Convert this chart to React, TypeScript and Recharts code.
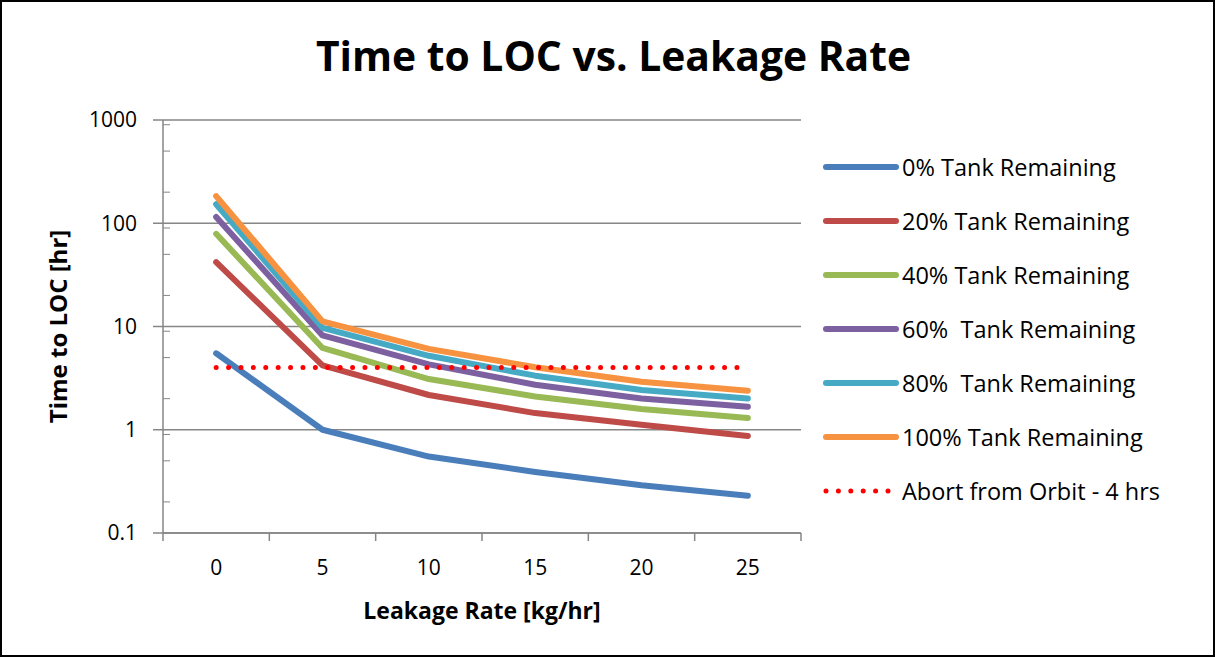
import { CartesianGrid, Legend, Line, LineChart, XAxis, YAxis } from "recharts";

const leakageRates = [0, 5, 10, 15, 20, 25];
const tank0 = [5.5, 1.0, 0.55, 0.39, 0.29, 0.23];
const tank20 = [42, 4.2, 2.17, 1.45, 1.12, 0.87];
const tank40 = [79, 6.2, 3.1, 2.1, 1.59, 1.3];
const tank60 = [115, 8.2, 4.3, 2.73, 2.01, 1.67];
const tank80 = [153, 9.7, 5.2, 3.34, 2.43, 2.01];
const tank100 = [183, 11.2, 6.07, 4.03, 2.92, 2.39];
const abortHours = [4, 4, 4, 4, 4, 4];

const yMajorTicks = [0.1, 1, 10, 100, 1000];
const yMinorTicks = [
  0.2, 0.3, 0.4, 0.5, 0.6, 0.7, 0.8, 0.9,
  2, 3, 4, 5, 6, 7, 8, 9,
  20, 30, 40, 50, 60, 70, 80, 90,
  200, 300, 400, 500, 600, 700, 800, 900,
];
const xBoundTicks = [-2.5, 2.5, 7.5, 12.5, 17.5, 22.5, 27.5];

const series = [
  { key: "t0", name: "0% Tank Remaining", color: "#4A7EBB", values: tank0 },
  { key: "t20", name: "20% Tank Remaining", color: "#BE4B48", values: tank20 },
  { key: "t40", name: "40% Tank Remaining", color: "#98B954", values: tank40 },
  { key: "t60", name: "60%  Tank Remaining", color: "#7D60A0", values: tank60 },
  { key: "t80", name: "80%  Tank Remaining", color: "#46AAC5", values: tank80 },
  { key: "t100", name: "100% Tank Remaining", color: "#F69240", values: tank100 },
];
const abort = { key: "abort", name: "Abort from Orbit - 4 hrs", color: "#FF0000", values: abortHours };
const legendOrder = [...series.map((s) => s.name), abort.name];

const data = leakageRates.map((rate, i) => {
  const row: Record<string, number> = { rate };
  series.forEach((s) => (row[s.key] = s.values[i]));
  row[abort.key] = abort.values[i];
  return row;
});

const FONT = "'Open Sans', sans-serif";
const GRID = "#868686";
const LEGEND_W = 380;

function LegendContent({ payload }: any) {
  const items = [...(payload || [])].sort(
    (a: any, b: any) => legendOrder.indexOf(a.value) - legendOrder.indexOf(b.value)
  );
  return (
    <div style={{ fontFamily: FONT, fontSize: 23.5, color: "#000" }}>
      {items.map((item: any) => {
        const dotted = item.value === abort.name;
        return (
          <div key={item.value} style={{ display: "flex", alignItems: "center", height: 54 }}>
            <svg width={76} height={10} style={{ marginRight: 3 }}>
              <line
                x1={3}
                x2={73}
                y1={5}
                y2={5}
                stroke={item.color}
                strokeWidth={dotted ? 5 : 6}
                strokeLinecap="round"
                strokeDasharray={dotted ? "0 12.4" : undefined}
              />
            </svg>
            <span style={{ whiteSpace: "pre" }}>{item.value}</span>
          </div>
        );
      })}
    </div>
  );
}

export default function App() {
  return (
    <div
      style={{
        position: "absolute",
        left: 0,
        top: 0,
        width: 1215,
        height: 657,
        boxSizing: "border-box",
        border: "2px solid #000",
        background: "#fff",
      }}
    >
      <div
        style={{
          position: "absolute",
          left: 12,
          right: 0,
          top: 33,
          textAlign: "center",
          fontFamily: FONT,
          fontWeight: 700,
          fontSize: 40.8,
          lineHeight: 1,
          color: "#000",
        }}
      >
        Time to LOC vs. Leakage Rate
      </div>
      <LineChart
        width={1211}
        height={653}
        data={data}
        margin={{ top: 118, right: 412 - LEGEND_W, bottom: 120, left: 160 }}
      >
        <CartesianGrid vertical={false} stroke={GRID} strokeWidth={1.5} xAxisId="main" yAxisId="main" />
        <XAxis
          xAxisId="bounds"
          dataKey="rate"
          type="number"
          domain={[-2.5, 27.5]}
          allowDataOverflow
          ticks={xBoundTicks}
          height={1}
          stroke={GRID}
          strokeWidth={1.5}
          tickSize={8}
          tick={() => <g />}
        />
        <XAxis
          xAxisId="main"
          dataKey="rate"
          type="number"
          domain={[-2.5, 27.5]}
          allowDataOverflow
          ticks={leakageRates}
          height={1}
          axisLine={false}
          tickLine={false}
          tickSize={0}
          tickMargin={26}
          tick={{ fontFamily: FONT, fontSize: 21, fill: "#000" }}
          label={{
            content: ({ viewBox }: any) => (
              <text
                x={viewBox.x + viewBox.width / 2}
                y={viewBox.y + 76}
                textAnchor="middle"
                dominantBaseline="central"
                fontFamily={FONT}
                fontWeight={700}
                fontSize={23}
                fill="#000"
              >
                Leakage Rate [kg/hr]
              </text>
            ),
          }}
        />
        <YAxis
          yAxisId="main"
          type="number"
          scale="log"
          domain={[0.1, 1000]}
          allowDataOverflow
          ticks={yMajorTicks}
          width={1}
          stroke={GRID}
          strokeWidth={1.5}
          tickSize={10}
          tickMargin={16}
          tickFormatter={(v: number) => String(v)}
          tick={{ fontFamily: FONT, fontSize: 21, fill: "#000" }}
          label={{
            content: ({ viewBox }: any) => {
              const x = viewBox.x + viewBox.width - 106;
              const y = viewBox.y + viewBox.height / 2;
              return (
                <text
                  x={x}
                  y={y}
                  transform={`rotate(-90, ${x}, ${y})`}
                  textAnchor="middle"
                  dominantBaseline="central"
                  fontFamily={FONT}
                  fontWeight={700}
                  fontSize={24}
                  fill="#000"
                >
                  Time to LOC [hr]
                </text>
              );
            },
          }}
        />
        <YAxis
          yAxisId="minor"
          type="number"
          scale="log"
          domain={[0.1, 1000]}
          allowDataOverflow
          ticks={yMinorTicks}
          mirror
          width={1}
          axisLine={false}
          stroke={GRID}
          tickSize={7}
          tick={() => <g />}
        />
        <Legend
          layout="vertical"
          align="right"
          verticalAlign="top"
          content={<LegendContent />}
          wrapperStyle={{ left: 821, top: 138, width: LEGEND_W }}
        />
        {series.map((s) => (
          <Line
            key={s.key}
            xAxisId="main"
            yAxisId="main"
            type="linear"
            dataKey={s.key}
            name={s.name}
            stroke={s.color}
            strokeWidth={6}
            strokeLinecap="round"
            strokeLinejoin="round"
            dot={false}
            isAnimationActive={false}
          />
        ))}
        <Line
          xAxisId="main"
          yAxisId="main"
          type="linear"
          dataKey={abort.key}
          name={abort.name}
          stroke={abort.color}
          strokeWidth={5}
          strokeLinecap="round"
          strokeDasharray="0 12.4"
          dot={false}
          isAnimationActive={false}
        />
      </LineChart>
    </div>
  );
}
